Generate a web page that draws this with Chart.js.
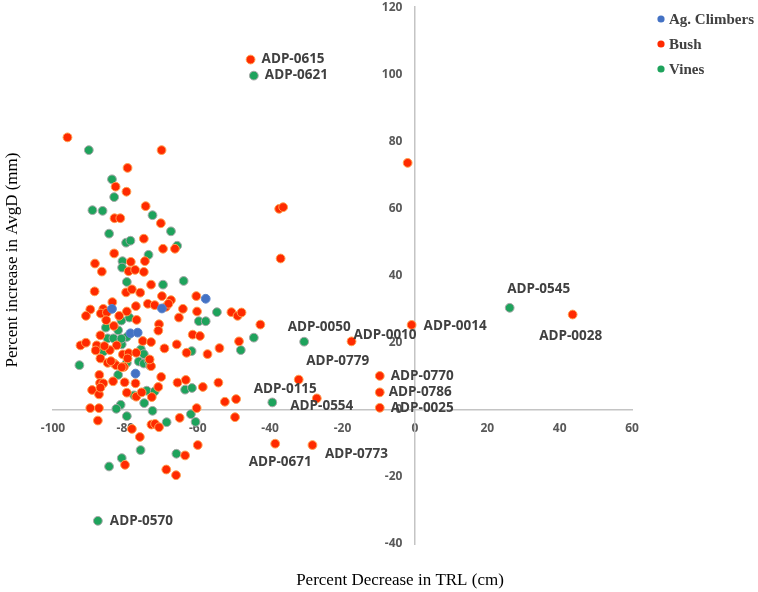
<!DOCTYPE html>
<html>
<head>
<meta charset="utf-8">
<script src="https://cdn.jsdelivr.net/npm/chart.js@4.4.1/dist/chart.umd.min.js"></script>
<style>
  html, body { margin: 0; padding: 0; background: #fff; }
  #wrap { width: 758px; height: 592px; }
</style>
</head>
<body>
<div id="wrap"><canvas id="chart"></canvas></div>
<script>
// values: [percent decrease TRL, percent increase AvgD]
const agClimbers = [
  [-57.8,33.1],[-83.7,30.1],[-69.9,30.2],[-78.6,22.8],[-76.6,23.0],[-77.2,10.8]
];

const bush = [
  [-96.0,81.2],[-70.0,77.4],[-79.4,72.1],[-82.7,66.5],[-79.7,65.0],[-74.4,60.7],[-83.0,57.1],[-81.4,57.1],
  [-70.2,55.6],[-74.9,51.0],[-69.6,48.0],[-66.3,48.0],[-83.1,46.6],[-78.5,44.1],[-74.6,44.3],[-88.4,43.6],
  [-86.5,41.2],[-79.1,41.3],[-77.3,41.7],[-74.9,41.1],[-72.9,37.3],[-88.5,35.3],[-79.8,35.0],[-78.2,35.9],
  [-75.9,34.9],[-69.9,33.9],[-67.4,32.7],[-60.4,33.9],[-37.5,59.9],[-36.4,60.4],[-37.1,45.1],[-45.4,104.4],
  [-2.0,73.6],[-83.6,32.1],[-77.1,30.9],[-73.8,31.6],[-71.9,31.2],[-68.8,30.7],[-68.1,31.6],[-64.1,30.1],
  [-89.7,29.9],[-86.1,30.1],[-90.9,28.0],[-86.8,28.7],[-85.1,29.0],[-79.6,29.3],[-81.7,28.0],[-85.3,26.7],
  [-76.9,26.8],[-70.7,25.5],[-65.2,27.5],[-60.2,29.3],[-50.7,29.1],[-49.0,28.0],[-47.9,29.0],[-42.7,25.4],
  [-48.6,20.4],[-17.5,20.4],[-32.1,9.0],[-27.1,3.4],[-38.6,-10.1],[-28.3,-10.5],[-0.9,25.3],[43.6,28.4],
  [-9.7,10.1],[-9.7,5.2],[-9.7,0.6],[-92.4,19.2],[-90.9,20.0],[-87.9,19.2],[-88.2,17.7],[-86.9,22.2],
  [-83.2,25.0],[-82.4,19.2],[-75.2,20.5],[-72.9,20.2],[-84.3,17.8],[-80.7,16.5],[-79.1,16.9],[-77.0,17.0],
  [-69.2,18.3],[-65.8,19.5],[-63.1,17.0],[-61.4,22.4],[-59.4,22.0],[-57.3,16.6],[-54.0,18.4],[-86.9,15.3],
  [-84.9,14.0],[-83.1,13.8],[-80.4,12.8],[-72.9,13.0],[-70.1,9.8],[-87.2,10.4],[-89.2,5.9],[-87.0,8.0],
  [-86.1,7.9],[-83.4,8.5],[-80.2,8.2],[-77.2,7.9],[-87.3,4.6],[-79.6,5.1],[-77.0,3.9],[-75.5,5.2],
  [-72.7,3.8],[-70.9,6.8],[-65.6,8.1],[-63.3,8.9],[-58.6,6.8],[-54.3,8.1],[-52.5,2.4],[-49.4,3.2],
  [-60.3,0.5],[-89.7,0.5],[-87.3,0.5],[-87.6,-3.2],[-72.8,-4.4],[-71.8,-4.2],[-70.7,-5.2],[-65.0,-2.4],
  [-49.7,-2.2],[-78.2,-5.7],[-76.0,-8.1],[-60.0,-10.5],[-63.5,-13.6],[-80.1,-16.4],[-68.7,-17.8],[-66.0,-19.5],
  [-70.9,23.6],[-73.3,15.0],[-82.6,13.3],[-79.4,15.3],[-81.0,12.7],[-86.9,6.6],[-84.0,14.5],[-85.8,19.0]
];

const vines = [
  [-90.1,77.4],[-83.7,68.7],[-83.1,63.4],[-89.1,59.5],[-86.3,59.3],[-72.5,58.0],[-67.4,53.2],[-84.5,52.5],
  [-79.8,49.8],[-78.6,50.4],[-65.7,48.9],[-73.6,46.2],[-80.8,44.3],[-80.9,42.4],[-79.6,38.1],[-69.6,37.3],
  [-63.9,38.4],[-44.5,99.6],[-81.1,26.6],[-78.9,27.5],[-54.7,29.1],[-59.7,26.4],[-57.8,26.4],[-44.5,21.5],
  [-48.1,17.8],[-30.6,20.3],[-39.4,2.2],[-87.6,-33.1],[26.2,30.4],[-84.9,21.3],[-85.4,24.5],[-83.3,21.3],
  [-82.0,23.7],[-81.0,19.5],[-79.6,21.7],[-86.0,17.4],[-75.7,18.0],[-74.9,16.6],[-61.7,17.5],[-79.6,14.0],
  [-76.3,14.4],[-74.9,13.8],[-73.6,14.7],[-82.0,10.4],[-92.7,13.3],[-77.6,4.3],[-74.1,5.7],[-71.9,5.5],
  [-63.5,6.0],[-61.6,6.5],[-74.8,2.0],[-81.3,1.5],[-82.5,0.3],[-72.5,-0.3],[-79.6,-1.9],[-68.6,-3.7],
  [-61.9,-1.3],[-60.6,-3.6],[-75.8,-12.0],[-65.9,-13.1],[-81.0,-14.4],[-84.5,-16.9],[-81.1,21.2],[-73.2,13.2]
];

const seriesNames = ['Ag. Climbers', 'Bush', 'Vines'];
const xTicks = [-100, -80, -60, -40, -20, 0, 20, 40, 60];
const yTicks = [-40, -20, 0, 20, 40, 60, 80, 100, 120];

// labelled accessions: [name, x, y]
const pointLabels = [
  ['ADP-0615', -45.4, 104.4], ['ADP-0621', -44.5, 99.6], ['ADP-0050', -30.6, 20.3],
  ['ADP-0010', -17.5, 20.4], ['ADP-0779', -32.1, 9.0], ['ADP-0115', -39.4, 2.2],
  ['ADP-0554', -27.1, 3.4], ['ADP-0671', -38.6, -10.1], ['ADP-0773', -28.3, -10.5],
  ['ADP-0570', -87.6, -33.1], ['ADP-0014', -0.9, 25.3], ['ADP-0545', 26.2, 30.4],
  ['ADP-0028', 43.6, 28.4], ['ADP-0770', -9.7, 10.1], ['ADP-0786', -9.7, 5.2],
  ['ADP-0025', -9.7, 0.6]
];

// text placement relative to its point, in px
const labelOffsets = {
  'ADP-0615': [11, 0, 'left'], 'ADP-0621': [11, 0, 'left'], 'ADP-0050': [15, -15, 'center'],
  'ADP-0010': [2, -6, 'left'], 'ADP-0779': [39, -18, 'center'], 'ADP-0115': [13, -13, 'center'],
  'ADP-0554': [5, 8, 'center'], 'ADP-0671': [5, 18, 'center'], 'ADP-0773': [44, 9, 'center'],
  'ADP-0570': [12, 0, 'left'], 'ADP-0014': [12, 1, 'left'], 'ADP-0545': [29, -19, 'center'],
  'ADP-0028': [-2, 22, 'center'], 'ADP-0770': [11, 0, 'left'], 'ADP-0786': [9, 0, 'left'],
  'ADP-0025': [11, 0, 'left']
};

const COLORS = {
  climbers: '#4472c4', climbersBorder: '#5b84cc',
  bush: '#ff2a00', bushBorder: '#ffa050',
  vines: '#1ea35c', vinesBorder: '#a8a8a8'
};

const toXY = arr => arr.map(p => ({x: p[0], y: p[1]}));

const tickFont = {family: 'Open Sans', weight: 'bold', size: 12};
const axisBorder = {display: true, color: '#c4c4c4', width: 1.5};

const extras = {
  id: 'extras',
  afterDatasetsDraw(chart){
    const {ctx, scales} = chart;
    ctx.save();
    ctx.font = 'bold 13.5px "Open Sans"';
    ctx.fillStyle = '#404040';
    ctx.textBaseline = 'middle';
    pointLabels.forEach(([name, x, y]) => {
      const [dx, dy, align] = labelOffsets[name];
      ctx.textAlign = align;
      ctx.fillText(name, scales.x.getPixelForValue(x) + dx, scales.y.getPixelForValue(y) + dy);
    });
    ctx.restore();
  },
  afterDraw(chart){
    const {ctx} = chart;
    ctx.save();
    // axis titles
    ctx.fillStyle = '#000';
    ctx.font = '17px "Liberation Serif"';
    ctx.textAlign = 'center';
    ctx.textBaseline = 'middle';
    ctx.fillText('Percent Decrease in TRL (cm)', 400, 581);
    ctx.translate(13, 260);
    ctx.rotate(-Math.PI / 2);
    ctx.fillText('Percent increase in AvgD (mm)', 0, 0);
    ctx.restore();

    // legend
    ctx.save();
    ctx.font = 'bold 15px "Liberation Serif"';
    ctx.textAlign = 'left';
    ctx.textBaseline = 'middle';
    chart.data.datasets.forEach((ds, i) => {
      const y = 19 + i * 25;
      ctx.beginPath();
      ctx.arc(661, y, 3.6, 0, Math.PI * 2);
      ctx.fillStyle = ds.backgroundColor;
      ctx.fill();
      ctx.fillStyle = '#404040';
      ctx.fillText(ds.label, 669, y + 1);
    });
    ctx.restore();
  }
};

new Chart(document.getElementById('chart'), {
  type: 'scatter',
  data: {
    datasets: [
      { label: seriesNames[0], data: toXY(agClimbers), backgroundColor: COLORS.climbers, borderColor: COLORS.climbersBorder, borderWidth: 1, pointRadius: 4.4 },
      { label: seriesNames[1], data: toXY(bush), backgroundColor: COLORS.bush, borderColor: COLORS.bushBorder, borderWidth: 1, pointRadius: 4.4 },
      { label: seriesNames[2], data: toXY(vines), backgroundColor: COLORS.vines, borderColor: COLORS.vinesBorder, borderWidth: 1, pointRadius: 4.4 }
    ]
  },
  options: {
    responsive: true,
    maintainAspectRatio: false,
    animation: false,
    layout: { padding: { left: 53, top: 7, right: 126, bottom: 48 } },
    plugins: { legend: { display: false }, tooltip: { enabled: false } },
    scales: {
      x: {
        type: 'linear', min: xTicks[0], max: xTicks[xTicks.length - 1], position: { y: 0 },
        afterBuildTicks: s => { s.ticks = xTicks.map(v => ({value: v})); },
        ticks: { color: '#595959', font: tickFont, padding: 12, maxRotation: 0 },
        grid: { display: false, drawTicks: false },
        border: axisBorder
      },
      y: {
        type: 'linear', min: yTicks[0], max: yTicks[yTicks.length - 1], position: { x: 0 },
        afterBuildTicks: s => { s.ticks = yTicks.map(v => ({value: v})); },
        // labels sit right against a centred axis, so pad them with trailing spaces
        ticks: { color: '#595959', font: tickFont, padding: 0, callback: v => v + '    ' },
        grid: { display: false, drawTicks: false },
        border: axisBorder
      }
    }
  },
  plugins: [extras]
});
</script>
</body>
</html>
